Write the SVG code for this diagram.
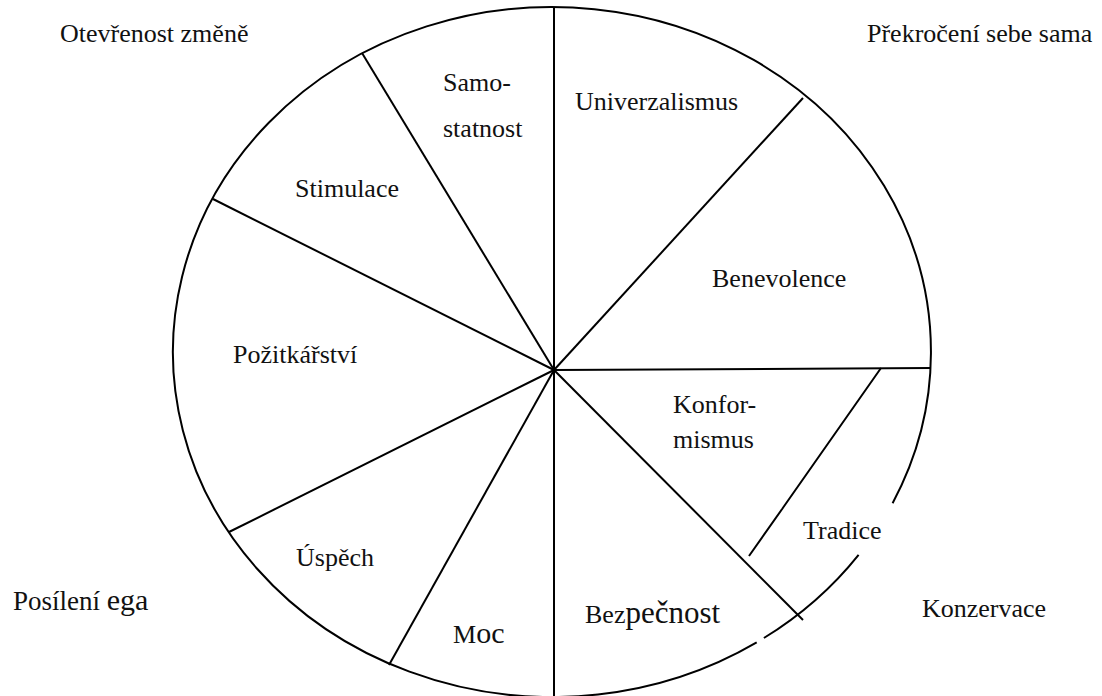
<svg xmlns="http://www.w3.org/2000/svg" width="1102" height="696" viewBox="0 0 1102 696">
<style>
.ln{stroke:#000;stroke-width:2;fill:none;stroke-linecap:butt}
text{font-family:'Liberation Serif','Times New Roman','DejaVu Serif',serif;font-size:26px;fill:#111}
.big{font-size:30px}
</style>
<rect width="1102" height="696" fill="#fff"/>
<g id="outline">
<path class="ln" d="M 892.6 503.2 A 379 345 0 1 0 756.7 642.3"/>
<path class="ln" d="M 763.9 638.0 A 379 345 0 0 0 858.6 554.8"/>
</g>
<g id="connectors">
<line class="ln" x1="554" y1="8" x2="554" y2="696"/>
<line class="ln" x1="554" y1="370" x2="362" y2="53"/>
<line class="ln" x1="554" y1="370" x2="213" y2="199"/>
<line class="ln" x1="554" y1="370" x2="229" y2="532"/>
<line class="ln" x1="554" y1="370" x2="389" y2="665"/>
<line class="ln" x1="554" y1="370" x2="803" y2="620"/>
<line class="ln" x1="554" y1="370" x2="931" y2="368"/>
<line class="ln" x1="554" y1="370" x2="803" y2="98"/>
<polyline class="ln" points="881,368 783.5,507 782.5,508.5 749,556"/>
</g>
<g id="otevrenost"><text x="60" y="42">Otevřenost změně</text></g>
<g id="prekroceni"><text x="867" y="42">Překročení sebe sama</text></g>
<g id="posileni"><text x="13" y="610" style="font-size:27px">Posílení <tspan class="big">ega</tspan></text></g>
<g id="konzervace"><text x="922" y="617">Konzervace</text></g>
<g id="samostatnost"><text x="443" y="91">Samo-</text><text x="443" y="137">statnost</text></g>
<g id="univerzalismus"><text x="575" y="110">Univerzalismus</text></g>
<g id="stimulace"><text x="295" y="197">Stimulace</text></g>
<g id="benevolence"><text x="712" y="287">Benevolence</text></g>
<g id="pozitkarstvi"><text x="233" y="363">Požitkářství</text></g>
<g id="konformismus"><text x="673" y="413">Konfor-</text><text x="673" y="448">mismus</text></g>
<g id="tradice"><text x="803" y="539">Tradice</text></g>
<g id="uspech"><text x="296" y="566">Úspěch</text></g>
<g id="moc"><text x="453" y="643">M<tspan class="big">oc</tspan></text></g>
<g id="bezpecnost"><text x="585" y="623">Bez<tspan style="font-size:31px">pečnost</tspan></text></g>
</svg>
